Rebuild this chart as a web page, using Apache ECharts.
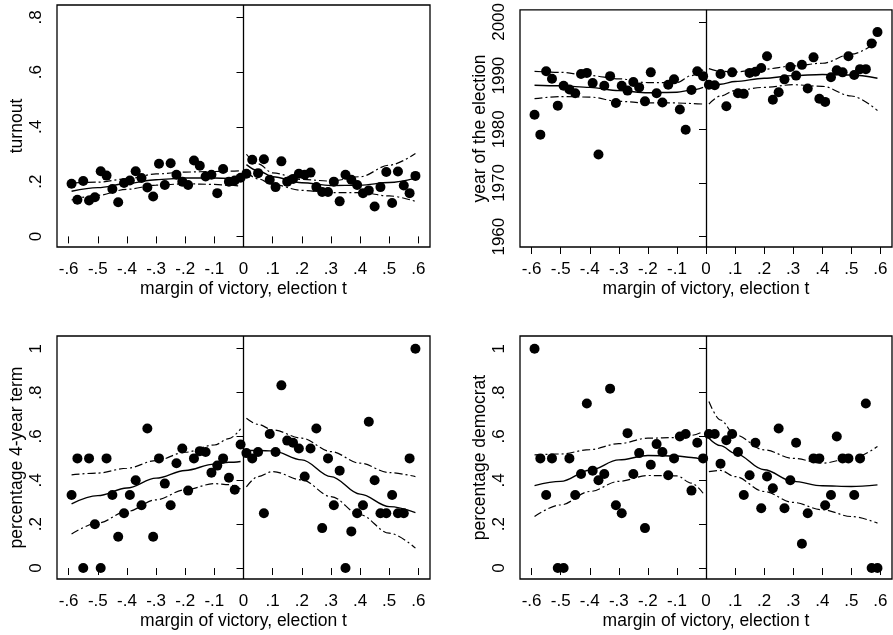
<!DOCTYPE html>
<html>
<head>
<meta charset="utf-8">
<script src="https://cdn.jsdelivr.net/npm/echarts@6/dist/echarts.min.js"></script>
<style>
  html, body { margin: 0; padding: 0; background: #fff; }
  #chart { width: 893px; height: 635px; }
</style>
</head>
<body>
<div id="chart"></div>
<script>
// Bin midpoints of the margin of victory (bins of width .02)
const bins = [
  -0.59, -0.57, -0.55, -0.53, -0.51, -0.49, -0.47, -0.45, -0.43, -0.41,
  -0.39, -0.37, -0.35, -0.33, -0.31, -0.29, -0.27, -0.25, -0.23, -0.21,
  -0.19, -0.17, -0.15, -0.13, -0.11, -0.09, -0.07, -0.05, -0.03, -0.01,
   0.01,  0.03,  0.05,  0.07,  0.09,  0.11,  0.13,  0.15,  0.17,  0.19,
   0.21,  0.23,  0.25,  0.27,  0.29,  0.31,  0.33,  0.35,  0.37,  0.39,
   0.41,  0.43,  0.45,  0.47,  0.49,  0.51,  0.53,  0.55,  0.57,  0.59
];

// Bin means
const turnout = [
  0.192, 0.134, 0.202, 0.131, 0.143, 0.238, 0.222, 0.173, 0.125, 0.195,
  0.204, 0.238, 0.213, 0.179, 0.146, 0.265, 0.188, 0.267, 0.225, 0.200,
  0.188, 0.277, 0.258, 0.219, 0.225, 0.158, 0.246, 0.200, 0.204, 0.214,
  0.229, 0.280, 0.231, 0.282, 0.207, 0.180, 0.274, 0.200, 0.210, 0.229,
  0.225, 0.233, 0.180, 0.162, 0.162, 0.200, 0.128, 0.225, 0.207, 0.188,
  0.158, 0.168, 0.109, 0.180, 0.235, 0.122, 0.237, 0.186, 0.158, 0.221
];
const electionYear = [
  1982.7, 1979.0, 1990.8, 1989.4, 1984.4, 1988.1, 1987.4, 1986.7, 1990.3, 1990.5,
  1988.6, 1975.3, 1988.1, 1989.9, 1984.9, 1988.1, 1987.2, 1988.8, 1987.8, 1985.2,
  1990.6, 1986.7, 1985.0, 1988.3, 1989.3, 1983.7, 1979.9, 1987.3, 1990.8, 1989.9,
  1988.3, 1988.2, 1990.3, 1984.3, 1990.6, 1986.7, 1986.6, 1990.5, 1990.7, 1991.4,
  1993.6, 1985.5, 1986.9, 1989.3, 1991.6, 1990.0, 1992.0, 1987.6, 1993.4, 1985.7,
  1985.1, 1989.7, 1991.0, 1990.6, 1993.6, 1990.1, 1991.2, 1991.2, 1996.0, 1998.1
];
const fourYearTerm = [
  0.333, 0.5, 0, 0.5, 0.2, 0, 0.5, 0.333, 0.143, 0.25,
  0.333, 0.4, 0.286, 0.636, 0.143, 0.5, 0.385, 0.286, 0.478, 0.545,
  0.353, 0.5, 0.533, 0.529, 0.435, 0.467, 0.5, 0.412, 0.357, 0.563,
  0.524, 0.5, 0.529, 0.25, 0.611, 0.529, 0.833, 0.581, 0.571, 0.545,
  0.417, 0.545, 0.636, 0.182, 0.5, 0.286, 0.444, 0, 0.167, 0.25,
  0.286, 0.667, 0.4, 0.25, 0.25, 0.333, 0.25, 0.25, 0.5, 1
];
const democrat = [
  1, 0.5, 0.333, 0.5, 0, 0, 0.5, 0.333, 0.429, 0.75,
  0.444, 0.4, 0.429, 0.818, 0.286, 0.25, 0.615, 0.429, 0.524, 0.182,
  0.471, 0.565, 0.529, 0.423, 0.5, 0.6, 0.611, 0.353, 0.571, 0.5,
  0.611, 0.611, 0.476, 0.583, 0.611, 0.529, 0.333, 0.423, 0.571, 0.273,
  0.417, 0.364, 0.636, 0.273, 0.4, 0.571, 0.111, 0.25, 0.5, 0.5,
  0.286, 0.333, 0.6, 0.5, 0.5, 0.333, 0.5, 0.75, 0, 0
];

// Points where the fitted curves and their confidence bands are evaluated
const fitXLeft  = [-0.59, -0.5, -0.4, -0.3, -0.2, -0.1, -0.05, -0.01];
const fitXRight = [0.01, 0.05, 0.1, 0.2, 0.3, 0.4, 0.5, 0.59];

// turnout: fit, upper, lower
const turnoutFitL = [0.165, 0.178, 0.193, 0.207, 0.213, 0.213, 0.212, 0.212];
const turnoutHiL  = [0.195, 0.198, 0.210, 0.228, 0.235, 0.237, 0.238, 0.240];
const turnoutLoL  = [0.133, 0.150, 0.172, 0.187, 0.192, 0.190, 0.187, 0.183];
const turnoutFitR = [0.262, 0.240, 0.218, 0.196, 0.186, 0.187, 0.197, 0.213];
const turnoutHiR  = [0.300, 0.265, 0.232, 0.208, 0.202, 0.218, 0.260, 0.303];
const turnoutLoR  = [0.235, 0.210, 0.190, 0.168, 0.160, 0.160, 0.148, 0.128];

// year of the election
const yearFitL = [1988.2, 1988.1, 1987.8, 1987.2, 1986.8, 1986.9, 1987.3, 1987.8];
const yearHiL  = [1990.8, 1990.6, 1990.0, 1989.4, 1988.7, 1988.7, 1990.0, 1991.1];
const yearLoL  = [1985.7, 1986.1, 1986.0, 1985.2, 1984.9, 1984.9, 1984.8, 1984.7];
const yearFitR = [1988.0, 1988.4, 1988.9, 1989.5, 1990.0, 1990.2, 1990.1, 1989.5];
const yearHiR  = [1991.3, 1990.8, 1990.7, 1991.2, 1991.8, 1992.3, 1994.0, 1996.3];
const yearLoR  = [1984.7, 1986.2, 1987.2, 1987.8, 1988.3, 1988.0, 1986.2, 1983.5];

// percentage 4-year term
const termFitL = [0.293, 0.330, 0.365, 0.410, 0.445, 0.474, 0.482, 0.486];
const termHiL  = [0.425, 0.433, 0.455, 0.490, 0.528, 0.561, 0.590, 0.635];
const termLoL  = [0.155, 0.205, 0.258, 0.311, 0.357, 0.385, 0.380, 0.360];
const termFitR = [0.536, 0.536, 0.534, 0.493, 0.417, 0.337, 0.280, 0.253];
const termHiR  = [0.683, 0.655, 0.630, 0.592, 0.531, 0.478, 0.435, 0.417];
const termLoR  = [0.370, 0.417, 0.440, 0.402, 0.326, 0.243, 0.159, 0.091];

// percentage democrat
const demFitL = [0.376, 0.395, 0.446, 0.493, 0.513, 0.511, 0.504, 0.493];
const demHiL  = [0.516, 0.520, 0.540, 0.567, 0.592, 0.595, 0.605, 0.622];
const demLoL  = [0.235, 0.288, 0.349, 0.395, 0.422, 0.420, 0.387, 0.341];
const demFitR = [0.592, 0.558, 0.523, 0.448, 0.395, 0.375, 0.372, 0.379];
const demHiR  = [0.759, 0.675, 0.607, 0.539, 0.500, 0.478, 0.500, 0.554];
const demLoR  = [0.440, 0.445, 0.417, 0.349, 0.299, 0.266, 0.235, 0.205];

// Tick values
const xTicks = [-0.6, -0.5, -0.4, -0.3, -0.2, -0.1, 0, 0.1, 0.2, 0.3, 0.4, 0.5, 0.6];
const turnoutTicks = [0, 0.2, 0.4, 0.6, 0.8];
const yearTicks = [1960, 1970, 1980, 1990, 2000];
const shareTicks = [0, 0.2, 0.4, 0.6, 0.8, 1];

const FONT = 'Liberation Sans, Arial, Helvetica, sans-serif';
const INK = '#000';

// Stata-style numbers: drop the leading zero (".2", "-.6")
function fmt(v) {
  return String(v).replace(/^(-?)0\./, '$1.');
}

const panels = [
  { title: 'turnout', values: turnout, ticks: turnoutTicks, min: -0.0387, max: 0.845,
    fit: [turnoutFitL, turnoutHiL, turnoutLoL, turnoutFitR, turnoutHiR, turnoutLoR],
    box: { left: 57, top: 5, width: 373, height: 242 } },
  { title: 'year of the election', values: electionYear, ticks: yearTicks, min: 1958.07, max: 2002.24,
    fit: [yearFitL, yearHiL, yearLoL, yearFitR, yearHiR, yearLoR],
    box: { left: 520, top: 5, width: 372, height: 242 } },
  { title: 'percentage 4-year term', values: fourYearTerm, ticks: shareTicks, min: -0.050, max: 1.058,
    fit: [termFitL, termHiL, termLoL, termFitR, termHiR, termLoR],
    box: { left: 57, top: 336, width: 373, height: 243 } },
  { title: 'percentage democrat', values: democrat, ticks: shareTicks, min: -0.050, max: 1.058,
    fit: [demFitL, demHiL, demLoL, demFitR, demHiR, demLoR],
    box: { left: 520, top: 336, width: 372, height: 243 } }
];

const grid = [], xAxis = [], yAxis = [], series = [];
const titleStyle = { color: INK, fontFamily: FONT, fontSize: 17.5 };
const tickFont = { color: INK, fontFamily: FONT, fontSize: 17 };

panels.forEach((p, i) => {
  grid.push(Object.assign({ show: true, borderColor: INK, borderWidth: 1.3, backgroundColor: '#fff' }, p.box));

  xAxis.push({
    type: 'value', gridIndex: i, min: -0.64, max: 0.64,
    name: 'margin of victory, election t', nameLocation: 'middle', nameGap: 33,
    nameTextStyle: titleStyle,
    axisLine: { show: false },
    splitLine: { show: false },
    axisTick: { show: true, length: 7, customValues: xTicks, lineStyle: { color: INK, width: 1 } },
    axisLabel: Object.assign({ customValues: xTicks, formatter: fmt, margin: 14 }, tickFont)
  });

  yAxis.push({
    type: 'value', gridIndex: i, min: p.min, max: p.max,
    name: p.title, nameLocation: 'middle', nameGap: 31, nameRotate: 90,
    nameTextStyle: titleStyle,
    axisLine: { show: false },
    splitLine: { show: false },
    axisTick: { show: true, length: 7, customValues: p.ticks, lineStyle: { color: INK, width: 1 } },
    axisLabel: Object.assign({ customValues: p.ticks, formatter: fmt, rotate: 90, margin: 12 }, tickFont)
  });

  series.push({
    type: 'scatter', xAxisIndex: i, yAxisIndex: i,
    data: bins.map((x, k) => [x, p.values[k]]),
    symbol: 'circle', symbolSize: 10,
    itemStyle: { color: INK, opacity: 1 },
    z: 3,
    markLine: {
      silent: true, symbol: 'none', animation: false,
      label: { show: false },
      lineStyle: { color: INK, width: 1.3, type: 'solid' },
      data: [{ xAxis: 0 }]
    }
  });

  p.fit.forEach((vals, j) => {
    const xs = j < 3 ? fitXLeft : fitXRight;
    const isBand = j % 3 !== 0;
    series.push({
      type: 'line', xAxisIndex: i, yAxisIndex: i,
      data: xs.map((x, k) => [x, vals[k]]),
      showSymbol: false, symbol: 'none',
      smooth: 0.35, smoothMonotone: 'x',
      lineStyle: isBand
        ? { color: INK, width: 1.2, type: [8, 3, 2, 3] }
        : { color: INK, width: 1.4, type: 'solid' },
      z: 2
    });
  });
});

const chart = echarts.init(document.getElementById('chart'), null, { renderer: 'canvas' });
chart.setOption({
  backgroundColor: '#fff',
  animation: false,
  grid, xAxis, yAxis, series
});
</script>
</body>
</html>
